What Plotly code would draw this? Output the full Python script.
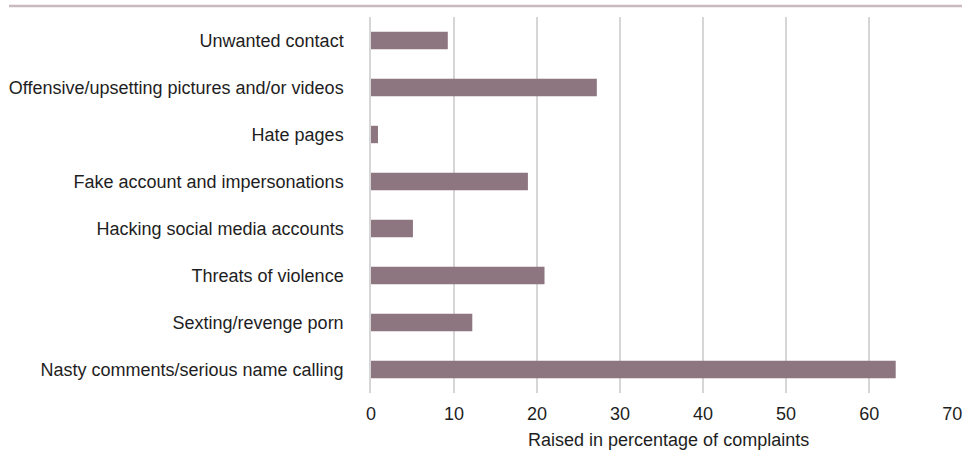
import plotly.graph_objects as go

categories = [
    "Nasty comments/serious name calling",
    "Sexting/revenge porn",
    "Threats of violence",
    "Hacking social media accounts",
    "Fake account and impersonations",
    "Hate pages",
    "Offensive/upsetting pictures and/or videos",
    "Unwanted contact",
]
values = [63.2, 12.2, 20.9, 5.05, 18.9, 0.84, 27.2, 9.25]
x_ticks = [0, 10, 20, 30, 40, 50, 60, 70]
x_title = "Raised in percentage of complaints"

BAR_COLOR = "#8e7680"
TEXT_COLOR = "#1e1e1e"
GRID_COLOR = "#d6d6d6"
FONT = "Liberation Sans, Arial, Helvetica, sans-serif"

W, H = 963, 453
L, R, T, B = 371, 10, 17, 60
PW, PH = W - L - R, H - T - B

fig = go.Figure(
    go.Bar(
        x=values,
        y=categories,
        orientation="h",
        marker=dict(color=BAR_COLOR, line=dict(width=0)),
        width=0.37,
    )
)

fig.update_layout(
    width=W,
    height=H,
    margin=dict(l=L, r=R, t=T, b=B, autoexpand=False),
    paper_bgcolor="white",
    plot_bgcolor="white",
    showlegend=False,
    font=dict(family=FONT, size=18, color=TEXT_COLOR),
    shapes=[
        # rule across the top of the figure
        dict(
            type="line", xref="paper", yref="paper",
            x0=(9 - L) / PW, x1=(962 - L) / PW,
            y0=1 + (T - 6) / PH, y1=1 + (T - 6) / PH,
            line=dict(color="#c9b9c0", width=2.5),
        )
    ],
    annotations=[
        dict(
            text=x_title, xref="paper", yref="paper",
            x=(668 - L) / PW, y=-(440 - (T + PH)) / PH,
            xanchor="center", yanchor="middle", showarrow=False,
            font=dict(family=FONT, size=18, color=TEXT_COLOR),
        )
    ],
)

fig.update_xaxes(
    range=[0, 70.1],
    tickvals=x_ticks,
    ticktext=[str(t) for t in x_ticks],
    showgrid=True,
    gridcolor=GRID_COLOR,
    gridwidth=1.5,
    zeroline=False,
    showline=False,
    ticks="",
    ticklabelstandoff=8,
    automargin=False,
    tickfont=dict(size=18, color=TEXT_COLOR),
)

fig.update_yaxes(
    categoryorder="array",
    categoryarray=categories,
    range=[-0.5, 7.5],
    showgrid=False,
    zeroline=False,
    showline=True,
    linecolor=GRID_COLOR,
    linewidth=1.5,
    ticks="",
    ticklabelstandoff=22,
    automargin=False,
    tickfont=dict(size=18, color=TEXT_COLOR),
)

fig.write_html("out.html")
